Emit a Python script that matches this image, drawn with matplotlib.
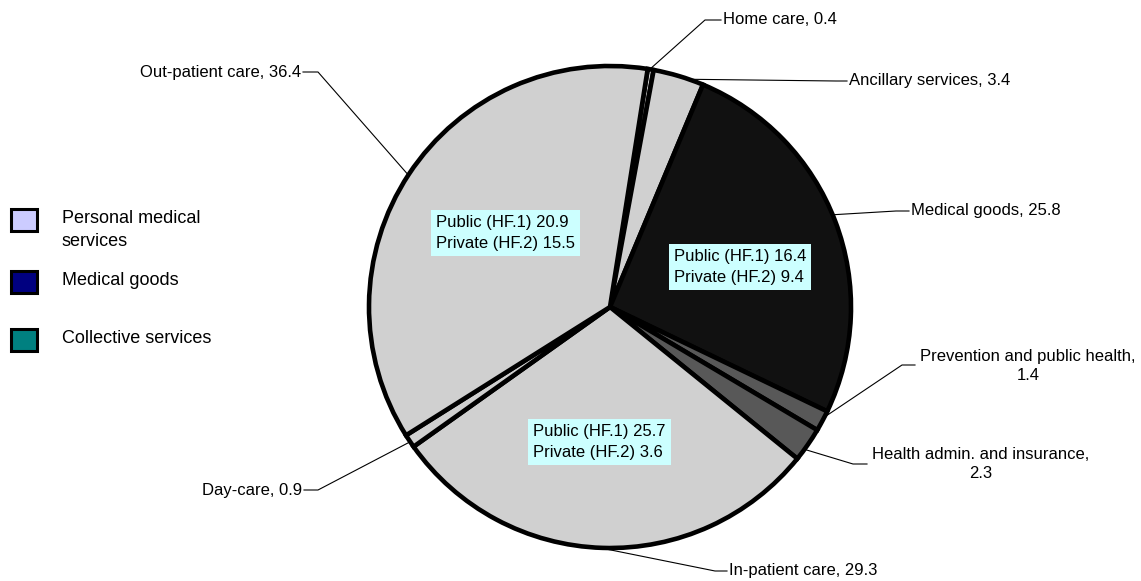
"""
Health expenditure by function - pie with public/private split boxes.

Run:  python plot.py   -> out.png
"""

import numpy as np
import matplotlib.pyplot as plt
from matplotlib.patches import Rectangle

plt.rcParams["font.family"] = ["Liberation Sans", "DejaVu Sans"]

# --------------------------------------------------------------------------- #
# Data                                                                        #
# --------------------------------------------------------------------------- #
# slices, clockwise from the top
categories = ["Home care", "Ancillary services", "Medical goods",
              "Prevention and public health", "Health admin. and insurance",
              "In-patient care", "Day-care", "Out-patient care"]
shares = [0.4, 3.4, 25.8, 1.4, 2.3, 29.3, 0.9, 36.4]
slice_colors = ["#d0d0d0", "#d0d0d0", "#111111", "#585858", "#585858",
                "#d0d0d0", "#d0d0d0", "#d0d0d0"]

# public / private split written inside the three big slices
split_slices = ["Out-patient care", "Medical goods", "In-patient care"]
public_hf1 = [20.9, 16.4, 25.7]
private_hf2 = [15.5, 9.4, 3.6]

legend_labels = ["Personal medical\nservices", "Medical goods",
                 "Collective services"]
legend_colors = ["#ccccff", "#000080", "#008080"]

# --------------------------------------------------------------------------- #
# Layout (pixel coords, y down)                                               #
# --------------------------------------------------------------------------- #
W, H = 1141, 581
CX, CY, R = 610, 307, 241
START = 81            # screen angle (deg) of the first slice edge

# name: (rim angle deg, elbow xy, line end x, text xy, ha)
LEADERS = {
    "Home care":                    (80.5, (705, 20), 721, (723, 20), "left"),
    "Ancillary services":           (70.9, (836, 81), 847, (849, 81), "left"),
    "Medical goods":                (22.5, (896, 211), 909, (911, 211), "left"),
    "Prevention and public health": (-27.2, (902, 365), 915, (1028, 366), "center"),
    "Health admin. and insurance":  (-36.2, (853, 464), 867, (981, 464), "center"),
    "In-patient care":              (267.6, (715, 571), 727, (729, 571), "left"),
    "Day-care":                     (214.0, (318, 490), 304, (302, 490), "right"),
    "Out-patient care":             (146.8, (318, 72), 303, (301, 72), "right"),
}
WRAP = {"Prevention and public health", "Health admin. and insurance"}

SPLIT_XY = {"Out-patient care": (436, 233),
            "Medical goods": (674, 267),
            "In-patient care": (533, 442)}

LEGEND_Y = [220, 282, 340]


def rim_point(angle_deg):
    a = np.deg2rad(angle_deg)
    return CX + R * np.cos(a), CY - R * np.sin(a)


def main():
    fig = plt.figure(figsize=(W / 100, H / 100), dpi=100)
    ax = fig.add_axes([0, 0, 1, 1])

    # y axis is inverted, so counterclock in data = clockwise on screen
    ax.pie(shares, colors=slice_colors, startangle=-START, counterclock=True,
           center=(CX, CY), radius=R,
           wedgeprops=dict(edgecolor="black", linewidth=3.3))
    ax.set_xlim(0, W)
    ax.set_ylim(H, 0)
    ax.set_aspect("equal", adjustable="box")
    ax.axis("off")

    # outside labels with leader lines
    for name, val in zip(categories, shares):
        ang, (ex, ey), lx, (tx, ty), ha = LEADERS[name]
        rx, ry = rim_point(ang)
        ax.plot([rx, ex, lx], [ry, ey, ey], color="black", lw=0.8)
        sep = ",\n" if name in WRAP else ", "
        ax.text(tx, ty, f"{name}{sep}{val}", ha=ha, va="center",
                fontsize=12, multialignment="center", linespacing=1.4)

    # public / private split boxes
    for name, pub, priv in zip(split_slices, public_hf1, private_hf2):
        x, y = SPLIT_XY[name]
        ax.text(x, y, f"Public (HF.1) {pub}\nPrivate (HF.2) {priv}",
                ha="left", va="center", fontsize=12, linespacing=1.55,
                bbox=dict(boxstyle="square,pad=0.3", fc="#ccffff", ec="none"))

    # legend (colours differ from the slices, as in the source)
    for lab, col, y in zip(legend_labels, legend_colors, LEGEND_Y):
        ax.add_patch(Rectangle((11, y - 11), 26, 22, fc=col, ec="black", lw=2.2))
        ax.text(62, y - 10, lab, ha="left", va="top", fontsize=13,
                linespacing=1.5)

    fig.savefig("out.png", dpi=100)
    plt.close(fig)


if __name__ == "__main__":
    main()
